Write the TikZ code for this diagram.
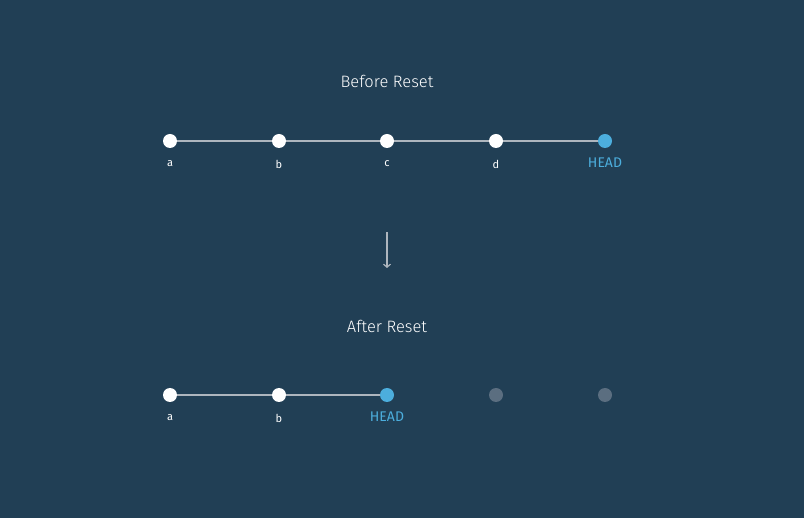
\documentclass[tikz,border=0pt]{standalone}
\usepackage{fontspec}
\setmainfont{Fira Sans}
\newfontfamily\titlefont{Fira Sans}[UprightFont=* Light]
\usepackage{tikz}
\usetikzlibrary{positioning,arrows.meta}

\definecolor{bgblue}{HTML}{213F55}
\definecolor{headblue}{HTML}{4CAEDD}
\definecolor{linegrey}{HTML}{AEB6BE}
\definecolor{oldgrey}{HTML}{5B6E80}

\tikzset{
  commit/.style={circle,fill=white,inner sep=0pt,minimum size=14pt},
  headcommit/.style={commit,fill=headblue},
  lostcommit/.style={commit,fill=oldgrey},
  commitlabel/.style={text=white,font=\fontsize{11}{13}\selectfont},
  headlabel/.style={text=headblue,font=\fontsize{14}{16}\selectfont},
  title/.style={text=white,font=\titlefont\fontsize{16.5}{19}\selectfont},
  link/.style={linegrey,line width=1.3pt}
}

\begin{document}
\begin{tikzpicture}[x=1pt,y=-1pt]
% The background
\fill[bgblue] (0,0) rectangle (804,518);
\useasboundingbox (0,0) rectangle (804,518);

% The titles
\node[title] (before) at (387,81) {Before Reset};
\node[title] (after) at (387,326) {After Reset};

% Before reset
\foreach \name/\x in {a/170,b/279,c/387,d/496}
  \node[commit] (t\name) at (\x,141) {};
\node[headcommit] (thead) at (605,141) {};
\draw[link] (ta) -- (tb);
\draw[link] (tb) -- (tc);
\draw[link] (tc) -- (td);
\draw[link] (td) -- (thead);
\foreach \name/\x in {a/170,b/279,c/387,d/496}
  \node[commitlabel] at (\x,164) {\name};
\node[headlabel] at (605,163) {HEAD};

% The arrow
\coordinate (arrtop) at (387,232);
\coordinate (arrbot) at (387,268);
\draw[linegrey,line width=1.2pt,-{Straight Barb[length=3pt,width=7pt]}] (arrtop) -- (arrbot);

% After reset
\node[commit] (ba) at (170,395) {};
\node[commit] (bb) at (279,395) {};
\node[headcommit] (bhead) at (387,395) {};
\node[lostcommit] (bc) at (496,395) {};
\node[lostcommit] (bd) at (605,395) {};
\draw[link] (ba) -- (bb);
\draw[link] (bb) -- (bhead);
\node[commitlabel] at (170,418) {a};
\node[commitlabel] at (279,418) {b};
\node[headlabel] at (387,417) {HEAD};
\end{tikzpicture}
\end{document}
